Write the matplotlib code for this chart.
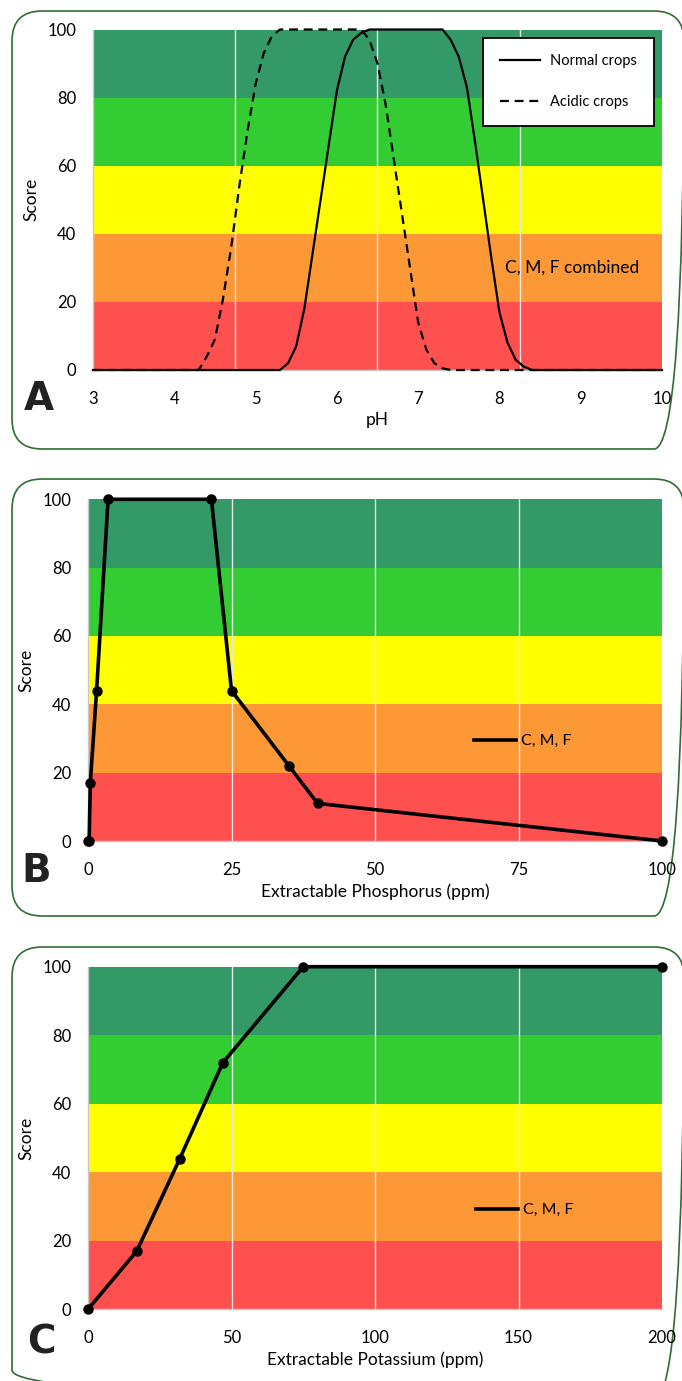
import matplotlib
matplotlib.use("Agg")
import matplotlib.pyplot as plt
from matplotlib.patches import FancyBboxPatch
from matplotlib.lines import Line2D

# ---------------- data ----------------
band_edges = [0, 20, 40, 60, 80, 100]
band_colors = ["#ff5050", "#fd9836", "#ffff00", "#33cc33", "#339966"]

# Panel A (pH)
normal_ph = [3.0, 5.3, 5.4, 5.5, 5.6, 5.7, 5.8, 5.9, 6.0, 6.1, 6.2, 6.3, 6.4,
             7.3, 7.4, 7.5, 7.6, 7.7, 7.8, 7.9, 8.0, 8.1, 8.2, 8.3, 8.4, 10.0]
normal_score = [0, 0, 2, 7, 18, 34, 50, 66, 82, 92, 97, 99, 100,
                100, 97, 92, 83, 67, 50, 33, 17, 8, 3, 1, 0, 0]
acidic_ph = [3.0, 4.3, 4.4, 4.5, 4.6, 4.7, 4.8, 4.9, 5.0, 5.1, 5.2, 5.3,
             6.3, 6.4, 6.5, 6.6, 6.7, 6.8, 6.9, 7.0, 7.1, 7.2, 7.3, 7.4, 10.0]
acidic_score = [0, 0, 4, 9, 21, 36, 54, 70, 84, 93, 98, 100,
                100, 97, 90, 78, 62, 46, 30, 14, 6, 2, 0.5, 0, 0]
ph_ticks = [3, 4, 5, 6, 7, 8, 9, 10]
ph_grid = [4.75, 6.5, 8.25]

# Panel B (Phosphorus)
p_ppm = [0, 0.2, 0.4, 1.5, 3.5, 21.5, 25, 35, 40, 100]
p_score = [0, 0, 17, 44, 100, 100, 44, 22, 11, 0]
p_ticks = [0, 25, 50, 75, 100]
p_grid = [25, 50, 75]

# Panel C (Potassium)
k_ppm = [0, 17, 32, 47, 75, 200]
k_score = [0, 17, 44, 72, 100, 100]
k_ticks = [0, 50, 100, 150, 200]
k_grid = [50, 100, 150]

score_ticks = [0, 20, 40, 60, 80, 100]

# ---------------- figure ----------------
W, H = 682, 1381
fig = plt.figure(figsize=(W / 100, H / 100), dpi=100)
plt.rcParams['font.family'] = ['Lato', 'DejaVu Sans']

# overlay for boxes and panel letters (pixel coordinates)
ov = fig.add_axes([0, 0, 1, 1], zorder=0)
ov.set_xlim(0, W)
ov.set_ylim(H, 0)
ov.axis("off")
box_color = "#2d6e32"
for (y0, y1) in [(11, 449), (479, 916), (947, 1400)]:
    ov.add_patch(FancyBboxPatch((12, y0), 672, y1 - y0,
                                boxstyle="round,pad=0,rounding_size=30",
                                fill=False, edgecolor=box_color, lw=1.2))
for lab, (x, y) in zip(["A", "B", "C"], [(39, 399), (36, 871), (41, 1343)]):
    ov.text(x, y, lab, fontsize=28, fontweight="bold", family="DejaVu Sans",
            color="#222222", ha="center", va="center")


def make_axes(left, right, top, bottom):
    return fig.add_axes([left / W, 1 - bottom / H, (right - left) / W, (bottom - top) / H], zorder=1)


def style(ax, xlim, xticks, grid, xlabel):
    for lo, hi, c in zip(band_edges[:-1], band_edges[1:], band_colors):
        ax.axhspan(lo, hi, color=c, lw=0, zorder=0)
    for g in grid:
        ax.axvline(g, color="#e6e6e6", lw=1.0, zorder=1)
    ax.set_xlim(*xlim)
    ax.set_ylim(0, 100)
    ax.set_xticks(xticks)
    ax.set_yticks(score_ticks)
    ax.tick_params(length=0, labelsize=12, colors="#000000")
    ax.tick_params(axis="x", pad=15)
    ax.tick_params(axis="y", pad=12)
    for s in ["top", "right"]:
        ax.spines[s].set_visible(False)
    for s in ["left", "bottom"]:
        ax.spines[s].set_color("#c8c8c8")
        ax.spines[s].set_linewidth(1.0)
        ax.spines[s].set_zorder(1.5)
    ax.set_ylabel("Score", fontsize=12.5, labelpad=6)
    ax.set_xlabel(xlabel, fontsize=12.5, labelpad=4)
    ax.set_facecolor("white")


# ---------- Panel A ----------
axA = make_axes(93, 662, 29.5, 370)
style(axA, (3, 10), ph_ticks, ph_grid, "pH")
lnN, = axA.plot(normal_ph, normal_score, color="black", lw=1.6, zorder=3, clip_on=False,
                label="Normal crops")
lnA, = axA.plot(acidic_ph, acidic_score, color="black", lw=1.6, ls=(0, (4, 2.6)), zorder=3,
                clip_on=False, label="Acidic crops")
legA = axA.legend(handles=[lnN, lnA], loc="upper right", bbox_to_anchor=(0.986, 0.976),
                  fontsize=10.5, frameon=True, fancybox=False, edgecolor="black",
                  framealpha=1, borderpad=1.15, labelspacing=1.85, handlelength=2.75,
                  handletextpad=0.7, borderaxespad=0)
legA.get_frame().set_linewidth(1.3)
axA.text(8.07, 30, "C, M, F combined", fontsize=12.5, ha="left", va="center", zorder=4)

# ---------- Panel B ----------
axB = make_axes(88, 662, 499.3, 841)
style(axB, (0, 100), p_ticks, p_grid, "Extractable Phosphorus (ppm)")
axB.plot(p_ppm, p_score, color="black", lw=2.6, marker="o", ms=6.5, zorder=3, clip_on=False)
hB = Line2D([], [], color="black", lw=2.6)
axB.legend(handles=[hB], labels=["C, M, F"], loc="center left",
           bbox_to_anchor=((474 - 88) / 574, (841 - 741) / 341.7), frameon=False,
           fontsize=11.5, handlelength=2.6, handletextpad=0.35, borderpad=0, borderaxespad=0)

# ---------- Panel C ----------
axC = make_axes(88, 662, 966.7, 1309.3)
style(axC, (0, 200), k_ticks, k_grid, "Extractable Potassium (ppm)")
axC.plot(k_ppm, k_score, color="black", lw=2.6, marker="o", ms=6.5, zorder=3, clip_on=False)
hC = Line2D([], [], color="black", lw=2.6)
axC.legend(handles=[hC], labels=["C, M, F"], loc="center left",
           bbox_to_anchor=((476 - 88) / 574, (1309.3 - 1210) / 342.6), frameon=False,
           fontsize=11.5, handlelength=2.6, handletextpad=0.35, borderpad=0, borderaxespad=0)

fig.savefig("out.png", dpi=100)
